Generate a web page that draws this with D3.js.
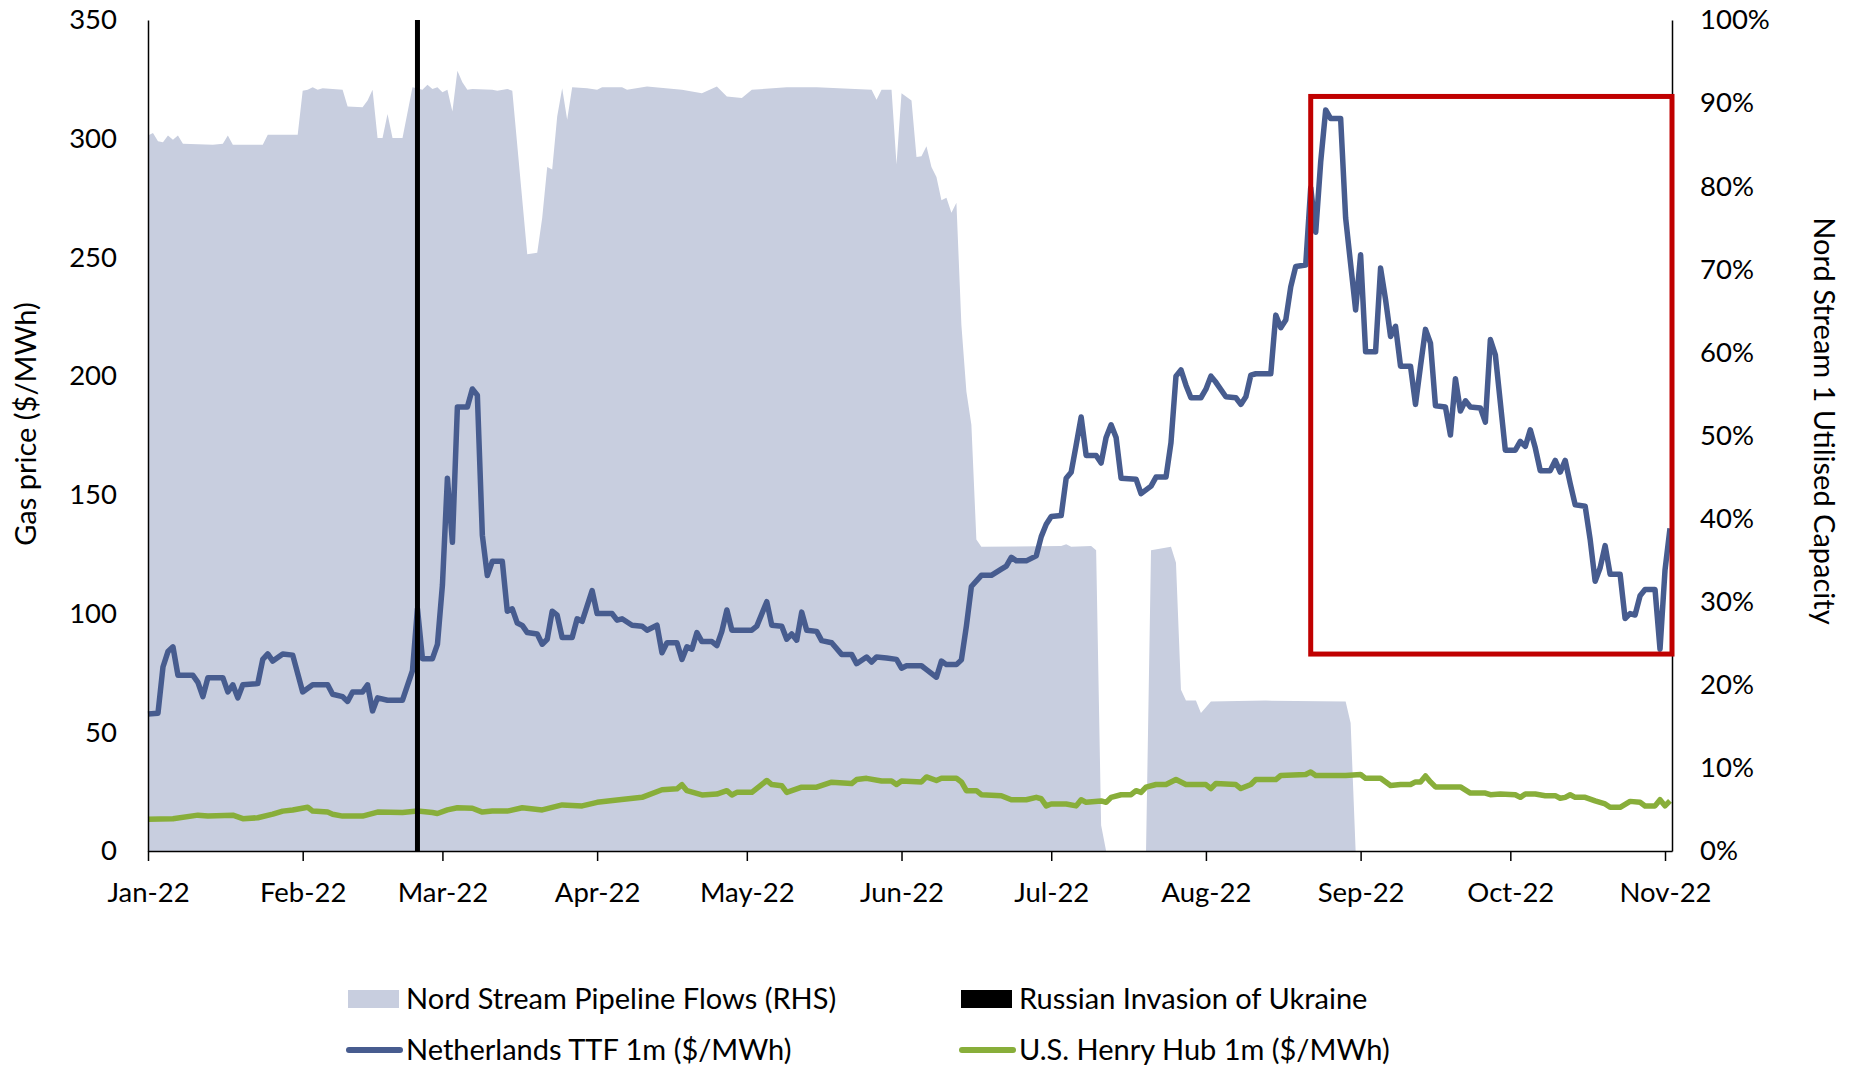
<!DOCTYPE html>
<html>
  <head>
    <meta charset="utf-8">
    <style type="text/css">
      body { margin: 0; background: #fff; }
      svg text { font-family: Lato, "Open Sans", sans-serif; fill: #000; }
    </style>
    <title>European vs US gas prices and Nord Stream flows</title>
  </head>
  <body>
    <script src="https://cdn.jsdelivr.net/npm/d3@7"></script>
    <script>

/*========== Data (day = days since 1 Jan 2022) ==========*/

// Nord Stream 1 utilised capacity, % (RHS)
const nordStream = [
  [0, 86.1], [1, 86.4], [2, 85.4], [3, 85.3], [4, 86.1], [5, 85.6], [6, 86.1], [7, 85.1], [13, 85.0],
  [15, 85.1], [16, 86.1], [17, 85.0], [23, 85.0], [24, 86.2], [30, 86.2], [31, 91.5], [32, 91.6],
  [33, 91.9], [34, 91.6], [35, 91.8], [39, 91.6], [40, 89.6], [43, 89.5], [44, 90.3], [45, 91.6],
  [46, 85.8], [47, 85.8], [48, 88.7], [49, 85.8], [51, 85.8], [53, 91.9], [55, 91.6], [56, 92.2],
  [57, 91.7], [58, 91.9], [59, 91.3], [60, 91.6], [61, 89.0], [62, 93.9], [63, 92.5], [64, 91.6],
  [65, 91.7], [69, 91.6], [70, 91.5], [72, 91.7], [73, 91.5], [76, 71.8], [78, 72.0], [79, 76.2],
  [80, 82.3], [81, 82.0], [82, 88.4], [83, 91.8], [84, 88.0], [85, 91.9], [88, 91.8], [90, 91.6],
  [91, 91.9], [95, 91.9], [96, 91.6], [100, 92.0], [107, 91.6], [111, 91.2], [114, 92.0], [116, 90.8],
  [119, 90.6], [121, 91.6], [128, 91.9], [134, 91.9], [145, 91.6], [146, 90.4], [147, 91.6],
  [149, 91.6], [150, 82.6], [151, 91.2], [153, 90.3], [154, 83.5], [155, 83.6], [156, 84.8],
  [157, 82.3], [158, 81.1], [159, 78.3], [160, 78.6], [161, 76.8], [162, 78.0], [163, 63.3],
  [164, 55.3], [165, 51.3], [166, 37.5], [167, 36.6], [183, 36.7], [184, 36.9], [185, 36.6],
  [189, 36.7], [190, 36.2], [191, 3.1], [192, 0], [200, 0], [201, 36.2], [205, 36.6], [206, 34.7],
  [207, 19.4], [208, 18.1], [210, 18.1], [211, 16.6], [213, 18.0], [224, 18.1], [240, 18.0],
  [241, 15.4], [242, 0]
];

// Netherlands TTF 1m, $/MWh
const ttf = [
  [0, 57.7], [2, 58], [3, 77.5], [4, 84], [5, 86], [6, 74], [9, 74], [10, 71], [11, 65], [12, 73],
  [15, 73], [16, 67], [17, 70], [18, 64.5], [19, 70], [22, 70.5], [23, 80.7], [24, 83], [25, 80],
  [27, 83], [29, 82.5], [31, 67], [33, 70], [36, 70], [37, 66], [39, 65], [40, 63], [41, 67], [43, 67],
  [44, 70], [45, 59], [46, 64.5], [48, 63.5], [51, 63.5], [53, 76], [54, 102], [55, 81], [57, 81],
  [58, 87], [59, 112], [60, 157], [61, 130], [62, 187], [64, 187], [65, 194.6], [66, 192], [67, 133],
  [68, 116], [69, 122], [71, 122], [72, 101], [73, 102], [74, 96], [75, 95], [76, 92], [78, 91.4],
  [79, 87.1], [80, 89.2], [81, 101], [82, 99.3], [83, 89.9], [85, 89.9], [86, 97.8], [87, 96.7],
  [89, 109.7], [90, 100], [93, 100], [94, 97.2], [95, 97.8], [97, 95.1], [99, 94.7], [100, 93],
  [102, 95.1], [103, 83.5], [104, 87.7], [106, 87.7], [107, 80.7], [108, 86], [109, 85], [110, 92],
  [111, 88.2], [113, 88.2], [114, 86.5], [115, 92.5], [116, 101.5], [117, 93], [121, 93], [122, 94.7],
  [124, 105], [125, 95.1], [127, 94.7], [128, 89.2], [129, 91.4], [130, 88.8], [131, 100.6], [132, 93],
  [134, 92.5], [135, 88.6], [137, 87.7], [139, 82.8], [141, 82.8], [142, 78.9], [144, 81.7],
  [145, 79.6], [146, 81.7], [148, 81.3], [150, 80.7], [151, 77], [152, 78], [155, 78], [156, 76.4],
  [158, 73.2], [159, 80], [160, 78.5], [162, 78.5], [163, 80.5], [164, 94.7], [165, 111.4],
  [167, 116.1], [169, 116.1], [171, 118.7], [172, 120], [173, 123.7], [174, 122.2], [176, 122.2],
  [178, 124.3], [179, 132.4], [180, 137.6], [181, 140.9], [183, 141.3], [184, 157], [185, 159.5],
  [186, 171], [187, 182.8], [188, 166.6], [190, 166.6], [191, 163.4], [192, 174.2], [193, 179.5],
  [194, 174.2], [195, 157], [198, 156.6], [199, 150.5], [201, 153.7], [202, 157.5], [204, 157.5],
  [205, 172], [206, 200], [207, 202.6], [208, 196.2], [209, 190.9], [211, 190.9], [212, 194.5],
  [213, 200], [214, 197.4], [216, 191.3], [218, 190.9], [219, 188.1], [220, 191.3], [221, 200.4],
  [222, 201], [225, 201], [226, 225.7], [227, 220.4], [228, 223.6], [229, 237.6], [230, 246.2],
  [232, 246.8], [233, 279.4], [234, 260.6], [235, 290.2], [236, 312.1], [237, 308.5], [239, 308.5],
  [240, 266.6], [241, 247.2], [242, 227.9], [243, 251.1], [244, 210.3], [246, 210.3], [247, 245.5],
  [248, 232.2], [249, 216.7], [250, 221], [251, 204.2], [253, 204.2], [254, 188.1], [255, 204.2],
  [256, 219.7], [257, 213.9], [258, 187.5], [260, 187], [261, 175.2], [262, 198.9], [263, 185.3],
  [264, 189.6], [265, 187], [267, 186.6], [268, 180.6], [269, 215.4], [270, 209], [272, 168.8],
  [274, 168.8], [275, 172.5], [276, 170.4], [277, 177.4], [278, 169.8], [279, 160.2], [281, 160.2],
  [282, 164.5], [283, 159.6], [284, 164.5], [285, 154.8], [286, 145.8], [288, 145.2], [289, 131.2],
  [290, 113.6], [291, 119.3], [292, 128.6], [293, 116.6], [295, 116.6], [296, 97.9], [297, 100],
  [298, 99.4], [299, 107.5], [300, 110.1], [302, 110.1], [303, 85], [304, 118.3], [305, 135.9]
];

// U.S. Henry Hub 1m, $/MWh
const henryHub = [
  [0, 13.4], [5, 13.6], [10, 15.1], [12, 14.7], [17, 15.1], [19, 13.6], [22, 14], [25, 15.5],
  [27, 16.8], [29, 17.3], [32, 18.4], [33, 16.8], [36, 16.4], [37, 15.5], [39, 14.7], [43, 14.7],
  [46, 16.4], [51, 16.2], [54, 16.8], [57, 16.2], [58, 15.8], [60, 17.3], [62, 18.2], [65, 18],
  [67, 16.4], [69, 16.8], [72, 16.8], [75, 18.2], [79, 17.3], [83, 19.4], [87, 19], [90, 20.5],
  [94, 21.5], [99, 22.6], [103, 25.8], [106, 26.2], [107, 27.9], [108, 25.4], [111, 23.6], [114, 24],
  [116, 25.4], [117, 23.6], [118, 24.7], [121, 24.7], [124, 29.7], [125, 28], [127, 27.5],
  [128, 24.7], [131, 26.9], [134, 26.9], [137, 29], [141, 28.4], [142, 30.1], [144, 30.6],
  [147, 29.5], [149, 29.5], [150, 28], [151, 29.5], [155, 29.1], [156, 31.2], [158, 29.7],
  [159, 30.6], [162, 30.6], [163, 29.1], [164, 25.4], [166, 25.4], [167, 23.7], [171, 23.3],
  [173, 21.6], [176, 21.6], [178, 22.6], [179, 22], [180, 19], [181, 19.8], [184, 19.8], [186, 19],
  [187, 21.6], [188, 20.5], [191, 21.1], [192, 20.5], [193, 22.6], [195, 23.7], [197, 23.7],
  [198, 25.4], [199, 24.7], [200, 26.9], [202, 28], [204, 28], [206, 30.1], [208, 28], [212, 28],
  [213, 26.3], [214, 28.4], [218, 28], [219, 26.3], [221, 28], [222, 30.1], [226, 30.1], [227, 31.8],
  [232, 32.2], [233, 33.3], [234, 31.8], [240, 31.8], [243, 32.2], [244, 30.6], [247, 30.6],
  [249, 27.6], [251, 28], [253, 28], [254, 29.1], [255, 29.1], [256, 31.6], [257, 29.1], [258, 27],
  [263, 27], [265, 24.4], [268, 24.4], [269, 23.7], [271, 24], [274, 23.7], [275, 22.6], [276, 24],
  [278, 24], [280, 23.3], [282, 23.3], [283, 22.2], [284, 22.6], [285, 23.7], [286, 22.6], [288, 22.6],
  [290, 21.1], [292, 19.8], [293, 18.4], [295, 18.4], [297, 20.9], [299, 20.5], [300, 19], [302, 19],
  [303, 21.6], [304, 19], [305, 21.1]
];

const invasionDay = 54;                 // 24 Feb 2022
const highlight = { from: 233, to: 305.4, top: 0.908, bottom: 0.237 };  // red box, RHS units

const yLeftTicks = [0, 50, 100, 150, 200, 250, 300, 350];
const yRightTicks = [0, 0.1, 0.2, 0.3, 0.4, 0.5, 0.6, 0.7, 0.8, 0.9, 1.0];

const legendItems = [
  { label: "Nord Stream Pipeline Flows (RHS)", kind: "area" },
  { label: "Russian Invasion of Ukraine", kind: "bar" },
  { label: "Netherlands TTF 1m ($/MWh)", kind: "ttf" },
  { label: "U.S. Henry Hub 1m ($/MWh)", kind: "hh" }
];

/*========== Zones ==========*/
const W = 1851, H = 1065;
const plot = { left: 148, right: 1672, top: 20, bottom: 851 };
const colors = { area: "#c8cedf", ttf: "#475c8f", hh: "#88ae3a", box: "#c00000" };

const start = new Date(2022, 0, 1);
const toDate = d => d3.timeMinute.offset(start, Math.round(d * 1440));

const svg = d3.select("body").append("svg")
    .attr("width", W)
    .attr("height", H);

const x = d3.scaleTime()
    .domain([start, toDate(305.4)])
    .range([plot.left, plot.right]);
const yL = d3.scaleLinear().domain([0, 350]).range([plot.bottom, plot.top]);
const yR = d3.scaleLinear().domain([0, 1]).range([plot.bottom, plot.top]);

/*========== Marks ==========*/

// Nord Stream flows area
svg.append("path")
    .datum(nordStream)
    .attr("fill", colors.area)
    .attr("d", d3.area()
      .x(d => x(toDate(d[0])))
      .y0(yR(0))
      .y1(d => yR(d[1] / 100)));

const priceLine = d3.line()
    .x(d => x(toDate(d[0])))
    .y(d => yL(d[1]));

svg.append("path")
    .datum(henryHub)
    .attr("fill", "none")
    .attr("stroke", colors.hh)
    .attr("stroke-width", 5.5)
    .attr("stroke-linejoin", "round")
    .attr("d", priceLine);

svg.append("path")
    .datum(ttf)
    .attr("fill", "none")
    .attr("stroke", colors.ttf)
    .attr("stroke-width", 5.5)
    .attr("stroke-linejoin", "round")
    .attr("d", priceLine);

// invasion marker
svg.append("line")
    .attr("x1", x(toDate(invasionDay))).attr("x2", x(toDate(invasionDay)))
    .attr("y1", plot.top).attr("y2", plot.bottom)
    .attr("stroke", "#000")
    .attr("stroke-width", 5);

/*========== Axes ==========*/
function styleAxis(g) {
  g.select(".domain").attr("stroke", "#000").attr("stroke-width", 1.5);
  g.selectAll(".tick line").attr("stroke", "#000").attr("stroke-width", 1.5);
  g.selectAll("text").attr("font-size", 27.5).attr("fill", "#000")
    .style("font-family", "Lato, sans-serif");
}

svg.append("g")
    .attr("transform", `translate(0,${plot.bottom})`)
    .call(d3.axisBottom(x)
      .ticks(d3.timeMonth.every(1))
      .tickFormat(d3.timeFormat("%b-%y"))
      .tickSize(10).tickSizeOuter(0).tickPadding(21))
    .call(styleAxis);

svg.append("g")
    .attr("transform", `translate(${plot.left},0)`)
    .call(d3.axisLeft(yL).tickValues(yLeftTicks).tickSize(0).tickPadding(31))
    .call(styleAxis);

svg.append("g")
    .attr("transform", `translate(${plot.right},0)`)
    .call(d3.axisRight(yR).tickValues(yRightTicks).tickFormat(d3.format(".0%"))
      .tickSize(0).tickPadding(28))
    .call(styleAxis);

// highlight box
svg.append("rect")
    .attr("x", x(toDate(highlight.from)))
    .attr("y", yR(highlight.top))
    .attr("width", x(toDate(highlight.to)) - x(toDate(highlight.from)))
    .attr("height", yR(highlight.bottom) - yR(highlight.top))
    .attr("fill", "none")
    .attr("stroke", colors.box)
    .attr("stroke-width", 5);

// axis titles
svg.append("text")
    .attr("transform", `translate(26,424) rotate(-90)`)
    .attr("text-anchor", "middle")
    .attr("dy", "0.35em")
    .attr("font-size", 29)
    .text("Gas price ($/MWh)");

svg.append("text")
    .attr("transform", `translate(1824,421) rotate(90)`)
    .attr("text-anchor", "middle")
    .attr("dy", "0.35em")
    .attr("font-size", 29)
    .text("Nord Stream 1 Utilised Capacity");

/*========== Legend ==========*/
const legend = svg.append("g");
legendItems.forEach((item, i) => {
  const col = i % 2, row = Math.floor(i / 2);
  const lx = col === 0 ? 348 : 961;
  const ly = row === 0 ? 999 : 1050;
  const g = legend.append("g").attr("transform", `translate(${lx},${ly})`);
  if (item.kind === "area" || item.kind === "bar") {
    g.append("rect")
        .attr("x", 0).attr("y", -9)
        .attr("width", 51).attr("height", 18)
        .attr("fill", item.kind === "area" ? colors.area : "#000");
  } else {
    g.append("line")
        .attr("x1", 1).attr("x2", 52).attr("y1", 0).attr("y2", 0)
        .attr("stroke", colors[item.kind])
        .attr("stroke-width", 6)
        .attr("stroke-linecap", "round");
  }
  g.append("text")
      .attr("x", 58)
      .attr("dy", "0.35em")
      .attr("font-size", 29)
      .text(item.label);
});

    </script>
  </body>
</html>
